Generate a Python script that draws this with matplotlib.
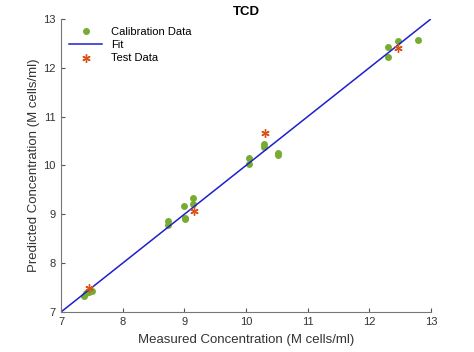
import matplotlib
matplotlib.use("Agg")
from matplotlib import pyplot as plt

plt.rcParams["font.family"] = ["Liberation Sans", "DejaVu Sans"]

# calibration set (measured vs predicted, M cells/ml)
cal_measured = [7.37, 7.40, 7.45, 7.50,
                8.73, 8.73,
                9.00, 9.01, 9.01,
                9.14, 9.14,
                10.05, 10.05,
                10.30, 10.30,
                10.52, 10.52,
                12.31, 12.31, 12.47, 12.79]
cal_predicted = [7.33, 7.38, 7.40, 7.43,
                 8.87, 8.78,
                 9.16, 8.93, 8.90,
                 9.33, 9.20,
                 10.16, 10.02,
                 10.43, 10.37,
                 10.25, 10.21,
                 12.43, 12.22, 12.55, 12.58]

# test set
test_measured = [7.45, 9.16, 10.31, 12.47]
test_predicted = [7.49, 9.07, 10.67, 12.40]

# fitted line
fit_x = [7, 13]
fit_y = [7, 13]

x_ticks = [7, 8, 9, 10, 11, 12, 13]
y_ticks = [7, 8, 9, 10, 11, 12, 13]

fig = plt.figure(figsize=(4.74, 3.52), dpi=100)
ax = fig.add_axes([0.129, 0.114, 0.78, 0.832])

ax.plot(cal_measured, cal_predicted, "o", color="#77AC30", markersize=5,
        markeredgewidth=0, label="Calibration Data")
ax.plot(fit_x, fit_y, "-", color="#1f1fcc", linewidth=1.1, label="Fit")
ax.plot(test_measured, test_predicted, linestyle="none", marker=(6, 2, 0),
        color="#D95319", markersize=6, markeredgewidth=1.0,
        label="Test Data")

ax.set_xlim(7, 13)
ax.set_ylim(7, 13)
ax.set_xticks(x_ticks)
ax.set_yticks(y_ticks)

for side in ["top", "right"]:
    ax.spines[side].set_visible(False)
for side in ["left", "bottom"]:
    ax.spines[side].set_color("#777777")
    ax.spines[side].set_linewidth(0.8)
ax.tick_params(direction="in", length=3, width=0.8, color="#555555",
               labelsize=8, labelcolor="#333333", pad=4)

ax.set_xlabel("Measured Concentration (M cells/ml)", fontsize=9.5,
              color="#333333", labelpad=5)
ax.set_ylabel("Predicted Concentration (M cells/ml)", fontsize=9.5,
              color="#333333", labelpad=2)
ax.set_title("TCD", fontsize=9.5, fontweight="bold", pad=3)

ax.legend(loc="upper left", frameon=False, fontsize=8, handlelength=3,
          borderaxespad=0.3, labelspacing=0.3)

fig.savefig("out.png", dpi=100)
